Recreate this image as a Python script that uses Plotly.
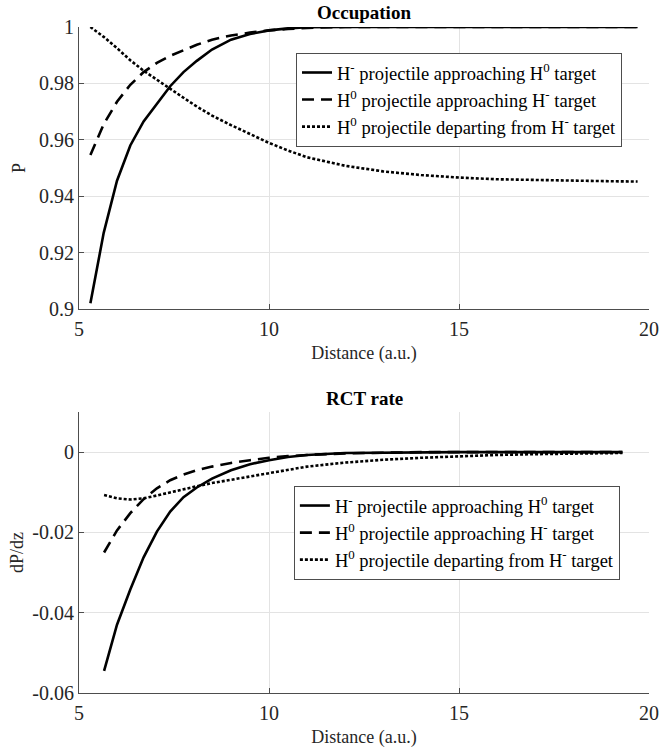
import plotly.graph_objects as go

# ---------------- data ----------------
x_occ = [5.3, 5.65, 6.0, 6.35, 6.7, 7.05, 7.4, 7.75, 8.1, 8.5, 9.0, 9.5, 10.0, 10.5,
         11.0, 12.0, 13.0, 14.0, 15.0, 16.0, 17.0, 18.0, 19.0, 19.7]
occ_hm_app = [0.902, 0.927, 0.9455, 0.958, 0.9665, 0.9728, 0.979, 0.984, 0.988, 0.992,
              0.9955, 0.9975, 0.9988, 0.9995, 0.9999, 1.0, 1.0, 1.0, 1.0, 1.0, 1.0, 1.0, 1.0, 1.0]
occ_h0_app = [0.9546, 0.9655, 0.9735, 0.9795, 0.984, 0.9873, 0.9898, 0.9918, 0.9937, 0.9955,
              0.997, 0.998, 0.9988, 0.9993, 0.9997, 1.0, 1.0, 1.0, 1.0, 1.0, 1.0, 1.0, 1.0, 1.0]
occ_h0_dep = [1.0, 0.9965, 0.9925, 0.9882, 0.9845, 0.9812, 0.9781, 0.9749, 0.9718, 0.9686,
              0.9652, 0.962, 0.9589, 0.9562, 0.9538, 0.9508, 0.9488, 0.9475, 0.9466, 0.946,
              0.9457, 0.9455, 0.9453, 0.9452]

x_rate = [5.66, 6.0, 6.35, 6.7, 7.05, 7.4, 7.75, 8.1, 8.5, 9.0, 9.5, 10.0, 10.5, 11.0,
          12.0, 13.0, 14.0, 15.0, 16.0, 17.0, 18.0, 19.0, 19.3]
rate_hm_app = [-0.0545, -0.043, -0.0342, -0.0262, -0.0198, -0.0148, -0.0112, -0.0088, -0.0066,
               -0.0045, -0.003, -0.002, -0.0012, -0.0007, -0.0002, -0.0001, 0.0, 0.0, 0.0,
               0.0, 0.0, 0.0, 0.0]
rate_h0_app = [-0.025, -0.0195, -0.0152, -0.0117, -0.009, -0.007, -0.0056, -0.0045, -0.0036,
               -0.0027, -0.002, -0.0014, -0.001, -0.0007, -0.0003, -0.0001, 0.0, 0.0, 0.0,
               0.0, 0.0, 0.0, 0.0]
rate_h0_dep = [-0.0107, -0.0115, -0.0118, -0.0115, -0.0108, -0.01, -0.0092, -0.0085, -0.0077,
               -0.0069, -0.0061, -0.0053, -0.0044, -0.0036, -0.0026, -0.0019, -0.0014, -0.001,
               -0.0007, -0.0005, -0.0003, -0.0002, -0.0002]

names = ["H<sup>-</sup> projectile approaching H<sup>0</sup> target",
         "H<sup>0</sup> projectile approaching H<sup>-</sup> target",
         "H<sup>0</sup> projectile departing from H<sup>-</sup> target"]
dashes = ["solid", "12px,7px", "3px,2px"]

x_ticks = [5, 10, 15, 20]
x_ticktext = ["5", "10", "15", "20"]
occ_ticks = [0.9, 0.92, 0.94, 0.96, 0.98, 1.0]
occ_ticktext = ["0.9", "0.92", "0.94", "0.96", "0.98", "1"]
rate_ticks = [-0.06, -0.04, -0.02, 0.0]
rate_ticktext = ["-0.06", "-0.04", "-0.02", "0"]

# ---------------- figure ----------------
FONT = "Liberation Serif, Times New Roman, serif"
TXT = "#262626"

fig = go.Figure()
for y, n, d in zip([occ_hm_app, occ_h0_app, occ_h0_dep], names, dashes):
    fig.add_trace(go.Scatter(x=x_occ, y=y, name=n, mode="lines",
                             line=dict(color="black", width=2.6, dash=d),
                             xaxis="x", yaxis="y", legend="legend"))
for y, n, d in zip([rate_hm_app, rate_h0_app, rate_h0_dep], names, dashes):
    fig.add_trace(go.Scatter(x=x_rate, y=y, name=n, mode="lines",
                             line=dict(color="black", width=2.6, dash=d),
                             xaxis="x2", yaxis="y2", legend="legend2"))

axis_common = dict(showline=True, linecolor="#4d4d4d", linewidth=1, mirror=False,
                   showgrid=True, gridcolor="#e3e3e3", gridwidth=1, zeroline=False,
                   ticks="inside", ticklen=5, tickcolor="#4d4d4d", automargin=False,
                   tickfont=dict(family=FONT, size=20, color=TXT))

title_font = dict(family=FONT, size=18, color=TXT)
leg_font = dict(family=FONT, size=18.5, color="black")

fig.update_layout(
    width=661, height=752,
    margin=dict(l=79, r=12, t=27, b=59),
    paper_bgcolor="white", plot_bgcolor="white",
    font=dict(family=FONT, size=18, color=TXT),
    xaxis=dict(domain=[0, 1], anchor="y", range=[5, 20], tickvals=x_ticks, ticktext=x_ticktext,
               ticklabelstandoff=2,
               title=dict(text="Distance (a.u.)", font=title_font, standoff=7),
               **axis_common),
    yaxis=dict(domain=[0.5766, 1], anchor="x", range=[0.9, 1.0], tickvals=occ_ticks, ticktext=occ_ticktext,
               title=dict(text="P", font=title_font, standoff=8),
               **axis_common),
    xaxis2=dict(domain=[0, 1], anchor="y2", range=[5, 20], tickvals=x_ticks, ticktext=x_ticktext,
                ticklabelstandoff=2,
                title=dict(text="Distance (a.u.)", font=title_font, standoff=7),
                **axis_common),
    yaxis2=dict(domain=[0, 0.4219], anchor="x2", range=[-0.06, 0.01], tickvals=rate_ticks, ticktext=rate_ticktext,
                title=dict(text="dP/dz", font=title_font, standoff=4),
                **axis_common),
    legend=dict(x=0.3807, y=0.961, xanchor="left", yanchor="top", bgcolor="white",
                bordercolor="#4d4d4d", borderwidth=1, font=leg_font,
                tracegroupgap=0, itemwidth=30),
    legend2=dict(x=0.377, y=0.3108, xanchor="left", yanchor="top", bgcolor="white",
                 bordercolor="#4d4d4d", borderwidth=1, font=leg_font,
                 tracegroupgap=0, itemwidth=30),
    annotations=[
        dict(text="<b>Occupation</b>", x=0.5, y=1.0, xref="paper", yref="paper",
             xanchor="center", yanchor="bottom", yshift=2, showarrow=False,
             font=dict(family=FONT, size=19, color="black")),
        dict(text="<b>RCT rate</b>", x=0.5, y=0.4219, xref="paper", yref="paper",
             xanchor="center", yanchor="bottom", yshift=1, showarrow=False,
             font=dict(family=FONT, size=19, color="black")),
    ],
)

fig.write_html("out.html")
